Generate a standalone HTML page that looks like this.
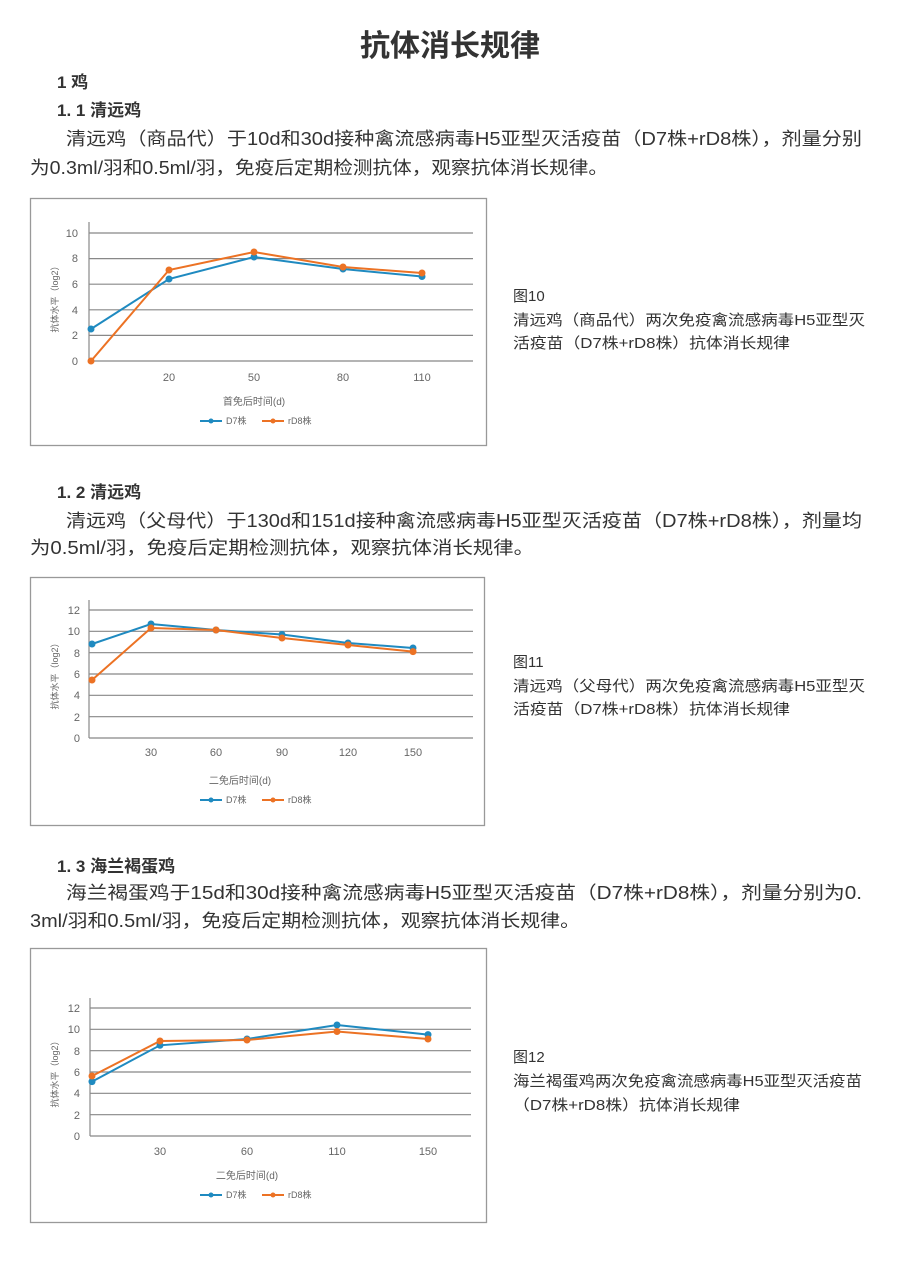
<!DOCTYPE html><html><head><meta charset="utf-8"><style>body{margin:0;background:#fff}svg{display:block}text{font-family:"Liberation Sans","Noto Sans CJK SC",sans-serif}</style></head><body>
<svg width="900" height="1267" viewBox="0 0 900 1267" xmlns="http://www.w3.org/2000/svg">
<g fill="#333">
<text x="450" y="56" font-size="30" font-weight="bold" text-anchor="middle">抗体消长规律</text>
<text x="57" y="88" font-size="17" font-weight="bold">1 鸡</text>
<text x="57" y="116" font-size="17" font-weight="bold">1. 1 清远鸡</text>
<text x="66" y="145" font-size="18" textLength="796" lengthAdjust="spacingAndGlyphs">清远鸡（商品代）于10d和30d接种禽流感病毒H5亚型灭活疫苗（D7株+rD8株），剂量分别</text>
<text x="30" y="174" font-size="18" textLength="578" lengthAdjust="spacingAndGlyphs">为0.3ml/羽和0.5ml/羽，免疫后定期检测抗体，观察抗体消长规律。</text>
<text x="57" y="498" font-size="17" font-weight="bold">1. 2 清远鸡</text>
<text x="66" y="527" font-size="18" textLength="796" lengthAdjust="spacingAndGlyphs">清远鸡（父母代）于130d和151d接种禽流感病毒H5亚型灭活疫苗（D7株+rD8株），剂量均</text>
<text x="30" y="554" font-size="18" textLength="504" lengthAdjust="spacingAndGlyphs">为0.5ml/羽，免疫后定期检测抗体，观察抗体消长规律。</text>
<text x="57" y="872" font-size="17" font-weight="bold">1. 3 海兰褐蛋鸡</text>
<text x="66" y="899" font-size="18" textLength="796" lengthAdjust="spacingAndGlyphs">海兰褐蛋鸡于15d和30d接种禽流感病毒H5亚型灭活疫苗（D7株+rD8株），剂量分别为0.</text>
<text x="30" y="927" font-size="18" textLength="550" lengthAdjust="spacingAndGlyphs">3ml/羽和0.5ml/羽，免疫后定期检测抗体，观察抗体消长规律。</text>
<text x="513" y="301" font-size="15">图10</text>
<text x="513" y="325" font-size="15" textLength="352" lengthAdjust="spacingAndGlyphs">清远鸡（商品代）两次免疫禽流感病毒H5亚型灭</text>
<text x="513" y="348" font-size="15" textLength="277" lengthAdjust="spacingAndGlyphs">活疫苗（D7株+rD8株）抗体消长规律</text>
<text x="513" y="667" font-size="15">图11</text>
<text x="513" y="691" font-size="15" textLength="352" lengthAdjust="spacingAndGlyphs">清远鸡（父母代）两次免疫禽流感病毒H5亚型灭</text>
<text x="513" y="714" font-size="15" textLength="277" lengthAdjust="spacingAndGlyphs">活疫苗（D7株+rD8株）抗体消长规律</text>
<text x="513" y="1062" font-size="15">图12</text>
<text x="513" y="1086" font-size="15" textLength="349" lengthAdjust="spacingAndGlyphs">海兰褐蛋鸡两次免疫禽流感病毒H5亚型灭活疫苗</text>
<text x="513" y="1110" font-size="15" textLength="227" lengthAdjust="spacingAndGlyphs">（D7株+rD8株）抗体消长规律</text>
</g>
<g fill="none" stroke="#999" stroke-width="1.3">
<rect x="30.5" y="198.5" width="456" height="247"/>
<rect x="30.5" y="577.5" width="454" height="248"/>
<rect x="30.5" y="948.5" width="456" height="274"/>
</g>
<!-- chart1 -->
<g stroke="#888" stroke-width="1.2">
<path d="M89 233H473M89 258.6H473M89 284.2H473M89 309.8H473M89 335.4H473M89 361H473M89 222V361"/>
<path d="M89 610H473M89 631.3H473M89 652.7H473M89 674H473M89 695.3H473M89 716.7H473M89 738H473M89 600V738"/>
<path d="M90 1008H471M90 1029.3H471M90 1050.7H471M90 1072H471M90 1093.3H471M90 1114.7H471M90 1136H471M90 998V1136"/>
</g>
<g font-size="11" fill="#666" text-anchor="end">
<text x="78" y="237">10</text><text x="78" y="262">8</text><text x="78" y="288">6</text><text x="78" y="314">4</text><text x="78" y="339">2</text><text x="78" y="365">0</text>
<text x="80" y="614">12</text><text x="80" y="635">10</text><text x="80" y="657">8</text><text x="80" y="678">6</text><text x="80" y="699">4</text><text x="80" y="721">2</text><text x="80" y="742">0</text>
<text x="80" y="1012">12</text><text x="80" y="1033">10</text><text x="80" y="1055">8</text><text x="80" y="1076">6</text><text x="80" y="1097">4</text><text x="80" y="1119">2</text><text x="80" y="1140">0</text>
</g>
<g font-size="11" fill="#666" text-anchor="middle">
<text x="169" y="381">20</text><text x="254" y="381">50</text><text x="343" y="381">80</text><text x="422" y="381">110</text>
<text x="151" y="756">30</text><text x="216" y="756">60</text><text x="282" y="756">90</text><text x="348" y="756">120</text><text x="413" y="756">150</text>
<text x="160" y="1155">30</text><text x="247" y="1155">60</text><text x="337" y="1155">110</text><text x="428" y="1155">150</text>
<text x="254" y="405" font-size="10">首免后时间(d)</text>
<text x="240" y="784" font-size="10">二免后时间(d)</text>
<text x="247" y="1179" font-size="10">二免后时间(d)</text>
</g>
<g font-size="9" fill="#666" text-anchor="middle">
<text transform="translate(58,297) rotate(-90)">抗体水平（log2）</text>
<text transform="translate(58,674) rotate(-90)">抗体水平（log2）</text>
<text transform="translate(58,1072) rotate(-90)">抗体水平（log2）</text>
</g>
<g font-size="9" fill="#666">
<text x="226" y="424">D7株</text><text x="288" y="424">rD8株</text>
<text x="226" y="803">D7株</text><text x="288" y="803">rD8株</text>
<text x="226" y="1198">D7株</text><text x="288" y="1198">rD8株</text>
</g>
<g stroke-width="2" fill="none">
<path stroke="#1f8ac0" d="M200 421H222M200 800H222M200 1195H222"/>
<path stroke="#ec7224" d="M262 421H284M262 800H284M262 1195H284"/>
<polyline stroke="#1f8ac0" points="91,329 169,279 254,257 343,269 422,276.5"/>
<polyline stroke="#ec7224" points="91,361 169,270 254,252 343,267 422,273"/>
<polyline stroke="#1f8ac0" points="92,644 151,624 216,630 282,634.5 348,643 413,648"/>
<polyline stroke="#ec7224" points="92,680 151,628 216,630 282,638 348,645 413,651.6"/>
<polyline stroke="#1f8ac0" points="92,1081.6 160,1045.3 247,1039 337,1025 428,1034.6"/>
<polyline stroke="#ec7224" points="92,1076 160,1041 247,1040 337,1031.5 428,1039"/>
</g>
<g fill="#1f8ac0">
<circle cx="211" cy="421" r="2.5"/><circle cx="211" cy="800" r="2.5"/><circle cx="211" cy="1195" r="2.5"/>
<circle cx="91" cy="329" r="3.5"/><circle cx="169" cy="279" r="3.5"/><circle cx="254" cy="257" r="3.5"/><circle cx="343" cy="269" r="3.5"/><circle cx="422" cy="276.5" r="3.5"/>
<circle cx="92" cy="644" r="3.5"/><circle cx="151" cy="624" r="3.5"/><circle cx="216" cy="630" r="3.5"/><circle cx="282" cy="634.5" r="3.5"/><circle cx="348" cy="643" r="3.5"/><circle cx="413" cy="648" r="3.5"/>
<circle cx="92" cy="1081.6" r="3.5"/><circle cx="160" cy="1045.3" r="3.5"/><circle cx="247" cy="1039" r="3.5"/><circle cx="337" cy="1025" r="3.5"/><circle cx="428" cy="1034.6" r="3.5"/>
</g>
<g fill="#ec7224">
<circle cx="273" cy="421" r="2.5"/><circle cx="273" cy="800" r="2.5"/><circle cx="273" cy="1195" r="2.5"/>
<circle cx="91" cy="361" r="3.5"/><circle cx="169" cy="270" r="3.5"/><circle cx="254" cy="252" r="3.5"/><circle cx="343" cy="267" r="3.5"/><circle cx="422" cy="273" r="3.5"/>
<circle cx="92" cy="680" r="3.5"/><circle cx="151" cy="628" r="3.5"/><circle cx="216" cy="630" r="3.5"/><circle cx="282" cy="638" r="3.5"/><circle cx="348" cy="645" r="3.5"/><circle cx="413" cy="651.6" r="3.5"/>
<circle cx="92" cy="1076" r="3.5"/><circle cx="160" cy="1041" r="3.5"/><circle cx="247" cy="1040" r="3.5"/><circle cx="337" cy="1031.5" r="3.5"/><circle cx="428" cy="1039" r="3.5"/>
</g>
</svg>
</body></html>
